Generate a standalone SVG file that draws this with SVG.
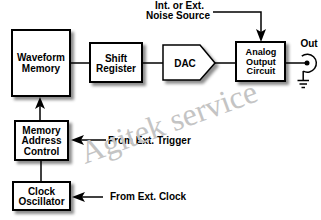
<svg xmlns="http://www.w3.org/2000/svg" width="321" height="220" viewBox="0 0 321 220">
<defs>
<filter id="sh" x="-20%" y="-20%" width="150%" height="150%">
<feDropShadow dx="3" dy="3" stdDeviation="1.5" flood-color="#000" flood-opacity="0.45"/>
</filter>
</defs>
<style>
.box{fill:#fff;stroke:#000;stroke-width:2;filter:url(#sh)}
.t{font-family:"Liberation Sans",Arial,sans-serif;font-weight:bold;font-size:10px;fill:#000;text-anchor:middle}
.ts{font-size:9.1px}
.tl{font-family:"Liberation Sans",Arial,sans-serif;font-weight:bold;font-size:10px;fill:#000}
.ln{stroke:#000;stroke-width:1.5;fill:none}
.ah{fill:#000;stroke:none}
.wm{font-family:"Liberation Serif","Times New Roman",serif;font-size:32px;fill:#c4c4c4}
</style>
<rect width="321" height="220" fill="#fff"/>

<g id="connectors">
<line class="ln" x1="70" y1="63" x2="90" y2="63"/>
<line class="ln" x1="142" y1="63" x2="163" y2="63"/>
<line class="ln" x1="215" y1="63" x2="236" y2="63"/>
<line class="ln" x1="285" y1="63" x2="307" y2="63"/>
<polyline class="ln" points="213,12 261,12 261,32"/>
<path class="ah" d="M261,42 L256,29 L261,32 L266,29 Z"/>
<line class="ln" x1="40" y1="120" x2="40" y2="105"/>
<path class="ah" d="M40,97 L35,109 L40,106 L45,109 Z"/>
<line class="ln" x1="41" y1="160" x2="41" y2="182"/>
<line class="ln" x1="80" y1="140" x2="106" y2="140"/>
<path class="ah" d="M71,140 L84,135 L81,140 L84,145 Z"/>
<line class="ln" x1="80" y1="197" x2="103" y2="197"/>
<path class="ah" d="M72,197 L85,192 L82,197 L85,202 Z"/>
</g>

<g id="waveform-memory">
<rect class="box" x="12" y="30" width="58" height="66"/>
<text class="t" x="41" y="61">Waveform</text>
<text class="t" x="41" y="71.5">Memory</text>
</g>

<g id="shift-register">
<rect class="box" x="90" y="43" width="52" height="39"/>
<text class="t" x="116" y="61.5">Shift</text>
<text class="t" x="116" y="71.5">Register</text>
</g>

<g id="dac">
<polygon points="163,45 200,45 215,63 200,80 163,80" fill="#fff" stroke="#000" stroke-width="1.5" filter="url(#sh)"/>
<text class="t" x="185" y="66.5">DAC</text>
</g>

<g id="analog-output">
<rect class="box" x="236" y="42" width="49" height="39"/>
<text class="t ts" x="261" y="55.3">Analog</text>
<text class="t ts" x="261" y="64.7">Output</text>
<text class="t ts" x="261" y="74">Circuit</text>
</g>

<g id="out-jack">
<circle cx="307" cy="63" r="2.5" fill="#000"/>
<path class="ln" d="M301.8,56.1 A9,9 0 1 1 303.2,71.2"/>
<line class="ln" x1="303.2" y1="71" x2="303.2" y2="80.5"/>
<line class="ln" x1="297.5" y1="80.5" x2="309" y2="80.5"/>
<line class="ln" x1="299.5" y1="84" x2="307" y2="84"/>
<line class="ln" x1="301.5" y1="87.5" x2="305" y2="87.5"/>
<text class="t" x="309" y="47">Out</text>
</g>

<g id="noise-source">
<text class="t" x="179.5" y="8.5">Int. or Ext.</text>
<text class="t" x="178" y="19">Noise Source</text>
</g>

<g id="memory-address-control">
<rect class="box" x="15" y="121" width="53" height="39"/>
<text class="t" x="41.5" y="134">Memory</text>
<text class="t" x="41.5" y="144.3">Address</text>
<text class="t" x="41.5" y="154.5">Control</text>
</g>

<g id="clock-oscillator">
<rect class="box" x="13" y="182" width="57" height="28"/>
<text class="t" x="41.5" y="194.5">Clock</text>
<text class="t" x="41.5" y="204.7">Oscillator</text>
</g>

<g id="ext-trigger">
<text class="tl" x="108" y="143.5">From Ext. Trigger</text>
</g>
<g id="ext-clock">
<text class="tl" x="110" y="200">From Ext. Clock</text>
</g>

<text class="wm" x="85" y="164" transform="rotate(-20 85 164)">Agitek service</text>
</svg>
